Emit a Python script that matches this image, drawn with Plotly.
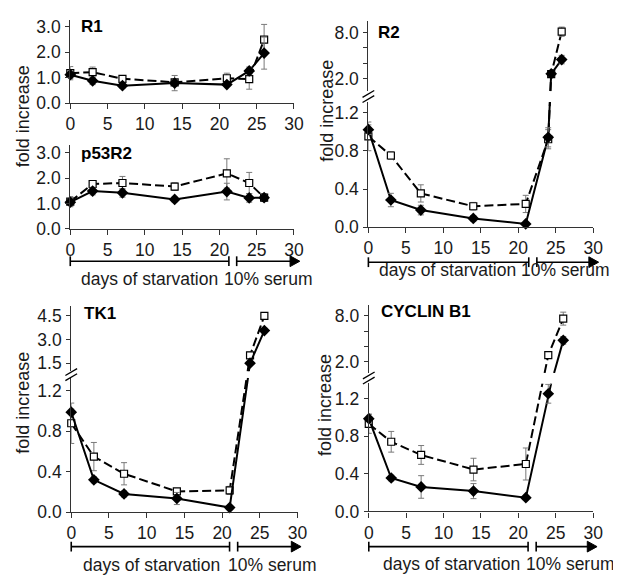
import plotly.graph_objects as go

# The page body has an 8px default margin, so the figure is drawn 8px in from
# the window's top-left corner; all layout positions below are given in window
# pixels and converted.
WIN_W, WIN_H = 621, 584
OFF = 8
W, H = WIN_W - OFF, WIN_H - OFF
FONT = "Liberation Sans, Arial, sans-serif"

# ---------------- data ----------------
x_ticks = [0, 5, 10, 15, 20, 25, 30]

# R1
r1_days = [0, 3, 7, 14, 21, 24, 26]
r1_open = [1.18, 1.22, 0.96, 0.82, 0.98, 0.95, 2.50]
r1_open_err = [0.26, 0.20, 0.08, 0.10, 0.20, 0.40, 0.60]
r1_fill = [1.12, 0.88, 0.69, 0.79, 0.73, 1.27, 1.97]
r1_fill_err = [0.15, 0.15, 0.10, 0.30, 0.07, 0.15, 0.63]

# p53R2
p53_days = [0, 3, 7, 14, 21, 24, 26]
p53_open = [1.07, 1.77, 1.81, 1.67, 2.19, 1.81, 1.23]
p53_open_err = [0.20, 0.10, 0.26, 0.15, 0.58, 0.42, 0.15]
p53_fill = [1.05, 1.49, 1.42, 1.16, 1.47, 1.22, 1.23]
p53_fill_err = [0.15, 0.15, 0.17, 0.10, 0.33, 0.17, 0.10]

# R2
r2_days = [0, 3, 7, 14, 21, 24, 24.4, 25.8]
r2_open = [0.95, 0.75, 0.354, 0.22, 0.244, 0.92, 2.60, 8.10]
r2_open_err = [0.15, 0.04, 0.09, 0.04, 0.09, 0.10, 0.30, 0.60]
r2_fill = [1.02, 0.285, 0.18, 0.093, 0.035, 0.94, 2.63, 4.48]
r2_fill_err = [0.05, 0.07, 0.05, 0.03, 0.01, 0.10, 0.30, 0.55]

# TK1
tk1_days = [0, 3, 7, 14, 21, 23.7, 25.6]
tk1_open = [0.88, 0.55, 0.38, 0.205, 0.215, 2.00, 4.50]
tk1_open_err = [0.20, 0.14, 0.11, 0.02, 0.04, 0.20, 0.20]
tk1_fill = [0.99, 0.32, 0.18, 0.135, 0.045, 1.50, 3.57]
tk1_fill_err = [0.03, 0.03, 0.03, 0.06, 0.02, 0.15, 0.15]

# CYCLIN B1
cb1_days = [0, 3, 7, 14, 21, 24, 26]
cb1_open = [0.93, 0.74, 0.60, 0.445, 0.504, 2.87, 7.65]
cb1_open_err = [0.10, 0.11, 0.10, 0.12, 0.17, 0.30, 0.85]
cb1_fill = [0.985, 0.355, 0.26, 0.216, 0.146, 1.25, 4.80]
cb1_fill_err = [0.05, 0.03, 0.12, 0.08, 0.02, 0.10, 0.50]

lower_ticks = [0, 0.4, 0.8, 1.2]
single_ticks = [0, 1, 2, 3]
r2_upper_ticks = [2, 4, 6, 8]
r2_upper_text = ["2.0", "", "", "8.0"]
tk1_upper_ticks = [1.5, 3.0, 4.5]
tk1_upper_text = ["1.5", "3.0", "4.5"]
cb1_upper_ticks = [2, 4, 6, 8]
cb1_upper_text = ["2.0", "", "", "8.0"]

# ---------------- helpers ----------------
def PX(x):
    return (x - OFF) / W

def PY(y):
    return 1 - (y - OFF) / H

AX = "#333333"
TICKFONT = dict(family=FONT, size=17.5, color="#1a1a1a")

STY = {
    "fill": dict(
        line=dict(color="black", width=2),
        marker=dict(symbol="diamond", size=9, color="black", line=dict(width=0)),
    ),
    "open": dict(
        line=dict(color="black", width=2, dash="9px,4px"),
        marker=dict(symbol="square", size=7, color="white",
                    line=dict(color="black", width=1.2)),
    ),
}

fig = go.Figure()
layout = {}
GEOM = {}


def axname(n, kind):
    return kind if n == 1 else f"{kind}{n}"


def ref(n, kind):
    return kind[0] if n == 1 else f"{kind[0]}{n}"


def add_axes(n, xpx, ypx, yrange, yvals, ytext=None, show_x=True, yfmt=".1f"):
    GEOM[n] = dict(x0=xpx[0], x1=xpx[1], ytop=ypx[0], ybot=ypx[1],
                   r0=yrange[0], r1=yrange[1])
    xa = dict(
        domain=[PX(xpx[0]), PX(xpx[1])], range=[0, 30], anchor=ref(n, "yaxis"),
        showgrid=False, zeroline=False, fixedrange=True,
    )
    if show_x:
        xa.update(showline=True, linecolor=AX, linewidth=1.2, ticks="outside",
                  ticklen=5, tickwidth=1.2, tickcolor=AX, tickvals=x_ticks,
                  ticktext=[str(t) for t in x_ticks], tickfont=TICKFONT)
    else:
        xa.update(visible=False)
    ya = dict(
        domain=[PY(ypx[1]), PY(ypx[0])], range=yrange, anchor=ref(n, "xaxis"),
        showgrid=False, zeroline=False, fixedrange=True, showline=True,
        linecolor=AX, linewidth=1.2, ticks="outside", ticklen=4, tickwidth=1.2,
        tickcolor=AX, tickvals=yvals, tickfont=TICKFONT, ticklabelstandoff=1,
    )
    if ytext is not None:
        ya["ticktext"] = ytext
    else:
        ya["tickformat"] = yfmt
    layout[axname(n, "xaxis")] = xa
    layout[axname(n, "yaxis")] = ya


def to_px(n, d, v):
    g = GEOM[n]
    x = g["x0"] + d / 30.0 * (g["x1"] - g["x0"])
    y = g["ybot"] - (v - g["r0"]) / (g["r1"] - g["r0"]) * (g["ybot"] - g["ytop"])
    return x, y


def line_tr(n, d, v, kind):
    fig.add_trace(go.Scatter(
        x=d, y=v, mode="lines", line=STY[kind]["line"],
        xaxis=ref(n, "xaxis"), yaxis=ref(n, "yaxis"),
        hoverinfo="skip", showlegend=False))


def mark_tr(n, d, v, e, kind):
    if not d:
        return
    fig.add_trace(go.Scatter(
        x=d, y=v, mode="markers", marker=STY[kind]["marker"],
        error_y=dict(type="data", array=e, color="#7a7a7a", thickness=1, width=3),
        xaxis=ref(n, "xaxis"), yaxis=ref(n, "yaxis"),
        cliponaxis=False, showlegend=False))


def simple(n, d, v, e, kind):
    line_tr(n, d, v, kind)
    mark_tr(n, d, v, e, kind)


def broken(nl, nu, d, v, e, kind):
    """Broken axis: the segment that jumps the break is straight on screen,
    split where it leaves the lower panel and enters the upper one."""
    ltop = GEOM[nl]["r1"]
    i = next(k for k in range(len(v)) if v[k] > ltop)
    p = i - 1
    ax_, ay_ = to_px(nl, d[p], v[p])
    bx_, by_ = to_px(nu, d[i], v[i])
    t1 = (ay_ - GEOM[nl]["ytop"]) / (ay_ - by_)
    t2 = (ay_ - GEOM[nu]["ybot"]) / (ay_ - by_)
    d1 = d[p] + t1 * (d[i] - d[p])
    d2 = d[p] + t2 * (d[i] - d[p])
    line_tr(nl, d[:i] + [d1], v[:i] + [ltop], kind)
    line_tr(nu, [d2] + d[i:], [GEOM[nu]["r0"]] + v[i:], kind)
    mark_tr(nl, d[:i], v[:i], e[:i], kind)
    mark_tr(nu, d[i:], v[i:], e[i:], kind)


# ---------------- axes ----------------
add_axes(1, (66.7, 296), (17.3, 102.3), [0, 3.27], single_ticks)
add_axes(2, (66.7, 296), (145, 230.7), [0, 3.32], single_ticks)
add_axes(3, (372.3, 602.7), (101, 229.3), [0, 1.31], lower_ticks)
add_axes(4, (372.3, 602.7), (18, 90), [0.38, 9.52], r2_upper_ticks, r2_upper_text, show_x=False)
add_axes(5, (67.7, 299.7), (383.3, 520.7), [0, 1.33], lower_ticks)
add_axes(6, (67.7, 299.7), (310, 376.7), [0.98, 5.12], tk1_upper_ticks, tk1_upper_text, show_x=False)
add_axes(7, (372.7, 602.7), (389, 520), [0, 1.36], lower_ticks)
add_axes(8, (372.7, 602.7), (309, 378.3), [0.53, 9.41], cb1_upper_ticks, cb1_upper_text, show_x=False)

# ---------------- traces (open first so filled diamonds sit on top) -------
simple(1, r1_days, r1_open, r1_open_err, "open")
simple(1, r1_days, r1_fill, r1_fill_err, "fill")
simple(2, p53_days, p53_open, p53_open_err, "open")
simple(2, p53_days, p53_fill, p53_fill_err, "fill")

broken(3, 4, r2_days, r2_open, r2_open_err, "open")
broken(3, 4, r2_days, r2_fill, r2_fill_err, "fill")
broken(5, 6, tk1_days, tk1_open, tk1_open_err, "open")
broken(5, 6, tk1_days, tk1_fill, tk1_fill_err, "fill")
broken(7, 8, cb1_days, cb1_open, cb1_open_err, "open")
broken(7, 8, cb1_days, cb1_fill, cb1_fill_err, "fill")

# ---------------- decorations ----------------
shapes = []
annotations = []


def pline(x0, y0, x1, y1, w=1.6):
    shapes.append(dict(type="line", xref="paper", yref="paper",
                       x0=PX(x0), y0=PY(y0), x1=PX(x1), y1=PY(y1),
                       line=dict(color="black", width=w)))


def axis_break(cx, cy):
    for off in (-2.6, 2.6):
        pline(cx - 6, cy + off + 3.5, cx + 6, cy + off - 3.5, w=1.3)


axis_break(372.3, 95.5)
axis_break(67.7, 380)
axis_break(372.7, 383.5)


def timeline(x0, x1, x2, xtip, y):
    pline(x0, y, x1, y)
    pline(x0, y - 5, x0, y + 5)
    pline(x1, y - 5, x1, y + 5)
    pline(x2, y - 5, x2, y + 5)
    pline(x2, y, xtip - 8, y)
    path = (f"M {PX(xtip - 10)},{PY(y - 5.5)} L {PX(xtip)},{PY(y)} "
            f"L {PX(xtip - 10)},{PY(y + 5.5)} Z")
    shapes.append(dict(type="path", xref="paper", yref="paper", path=path,
                       fillcolor="black", line=dict(color="black", width=1)))


timeline(66.7, 229.3, 237.3, 302, 264)
timeline(372.3, 536.7, 545, 608.3, 265)
timeline(67.7, 230, 238.3, 303.3, 556)
timeline(372.7, 536, 544.3, 606.7, 556)

TXT = dict(family=FONT, size=17.5, color="#1a1a1a")


def text(x, y, s, xanchor="center", angle=0, font=TXT):
    annotations.append(dict(x=PX(x), y=PY(y), xref="paper", yref="paper",
                            text=s, showarrow=False, xanchor=xanchor,
                            yanchor="middle", textangle=angle, font=font,
                            borderpad=0))


for (xc, xs, y) in [(148, 223.5, 281.7), (453.7, 527.5, 273.3),
                    (150, 227.5, 575), (457.5, 532.5, 573.3)]:
    text(xc, y, "days of starvation")
    text(xs, y, "10% serum", xanchor="left")

FOLD = dict(family=FONT, size=18, color="#1a1a1a")
for (x, y) in [(18, 116), (330, 110), (18, 409), (328, 411)]:
    text(x, y, "fold increase", angle=-90, font=FOLD)

BOLD = dict(family=FONT, size=17, color="black", weight="bold")
for (x, y, s) in [(76.5, 23.5, "R1"), (76.5, 153.3, "p53R2"), (381.5, 30, "R2"),
                  (80, 317.3, "TK1"), (384, 315, "CYCLIN B1")]:
    text(x, y, s, xanchor="left", font=BOLD)

layout.update(
    width=W, height=H, autosize=False,
    margin=dict(l=0, r=0, t=0, b=0),
    paper_bgcolor="white", plot_bgcolor="rgba(0,0,0,0)",
    showlegend=False, shapes=shapes, annotations=annotations,
    font=dict(family=FONT),
)
fig.update_layout(**layout)
fig.write_html("out.html")
